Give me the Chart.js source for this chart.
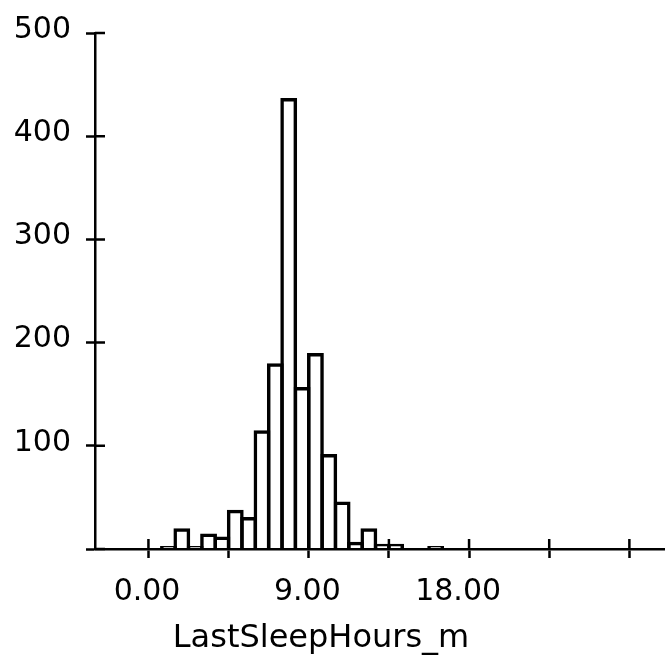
<!DOCTYPE html>
<html>
<head>
<meta charset="utf-8">
<script src="https://cdn.jsdelivr.net/npm/chart.js@4.4.1/dist/chart.umd.min.js"></script>
<style>
html, body { margin: 0; padding: 0; background: #fff; }
#wrap { width: 665px; height: 665px; }
</style>
</head>
<body>
<div id="wrap"><canvas id="histChart" width="665" height="665"></canvas></div>
<script>
// histogram bins (lower edge, hours) and counts
const binWidth = 0.75;
const binStarts = [0.75, 1.5, 2.25, 3.0, 3.75, 4.5, 5.25, 6.0, 6.75, 7.5, 8.25, 9.0, 9.75, 10.5, 11.25, 12.0, 12.75, 13.5, 15.75];
const binCounts = [3, 20, 3, 15, 12, 38, 31, 115, 180, 437, 157, 190, 92, 46, 7, 20, 5, 5, 3];

const xTickValues = [0, 4.5, 9, 13.5, 18, 22.5, 27];
const xTickLabels = ["0.00", "", "9.00", "", "18.00", "", ""];
const yTickValues = [0, 100, 200, 300, 400, 500];
const yTickLabels = ["", "100", "200", "300", "400", "500"];
const xTitle = "LastSleepHours_m";

const FONT = "'DejaVu Sans', sans-serif";

// ticks in the reference cross the axis line, chart.js only draws the outer half
const crossTicks = {
    id: 'crossTicks',
    afterDraw(chart) {
        const ctx = chart.ctx;
        const xs = chart.scales.x;
        const ys = chart.scales.y;
        const area = chart.chartArea;
        ctx.save();
        ctx.strokeStyle = '#000';
        ctx.lineWidth = 2.5;
        ctx.beginPath();
        xTickValues.forEach(v => {
            const px = xs.getPixelForValue(v);
            ctx.moveTo(px, area.bottom);
            ctx.lineTo(px, area.bottom - 10);
        });
        yTickValues.forEach(v => {
            const py = ys.getPixelForValue(v);
            ctx.moveTo(area.left, py);
            ctx.lineTo(area.left + 10, py);
        });
        ctx.stroke();

        // axis title sits left of centre in the reference
        ctx.fillStyle = '#000';
        ctx.font = "32px " + FONT;
        ctx.textAlign = 'center';
        ctx.textBaseline = 'alphabetic';
        ctx.fillText(xTitle, 321, 647);
        ctx.restore();
    }
};

new Chart(document.getElementById('histChart'), {
    type: 'bar',
    data: {
        datasets: [{
            data: binStarts.map((s, i) => ({ x: s + binWidth / 2, y: binCounts[i] })),
            backgroundColor: 'rgba(0,0,0,0)',
            borderColor: '#000',
            borderWidth: 3.5,
            borderSkipped: 'start',
            barPercentage: 1.26,
            categoryPercentage: 1
        }]
    },
    plugins: [crossTicks],
    options: {
        responsive: false,
        animation: false,
        layout: { padding: { top: 31, right: 0, left: 0, bottom: 0 } },
        plugins: {
            legend: { display: false },
            tooltip: { enabled: false }
        },
        scales: {
            x: {
                type: 'linear',
                min: -3,
                max: 29,
                offset: false,
                afterBuildTicks: s => { s.ticks = xTickValues.map(v => ({ value: v })); },
                afterFit: s => { s.height = 116; },
                ticks: {
                    autoSkip: false,
                    maxRotation: 0,
                    minRotation: 0,
                    align: 'end',
                    labelOffset: 32,
                    padding: 16,
                    color: '#000',
                    font: { family: FONT, size: 30 },
                    callback: v => xTickLabels[xTickValues.indexOf(v)]
                },
                grid: {
                    offset: false,
                    drawOnChartArea: false,
                    drawTicks: true,
                    tickLength: 9,
                    tickWidth: 2.5,
                    tickColor: '#000'
                },
                border: { display: true, color: '#000', width: 2.5 }
            },
            y: {
                type: 'linear',
                min: 0,
                max: 500,
                afterBuildTicks: s => { s.ticks = yTickValues.map(v => ({ value: v })); },
                afterFit: s => { s.width = 95; },
                ticks: {
                    autoSkip: false,
                    padding: 15,
                    labelOffset: -3,
                    color: '#000',
                    font: { family: FONT, size: 30 },
                    callback: v => yTickLabels[yTickValues.indexOf(v)]
                },
                grid: {
                    drawOnChartArea: false,
                    drawTicks: true,
                    tickLength: 9,
                    tickWidth: 2.5,
                    tickColor: '#000'
                },
                border: { display: true, color: '#000', width: 2.5 }
            }
        }
    }
});
</script>
</body>
</html>
